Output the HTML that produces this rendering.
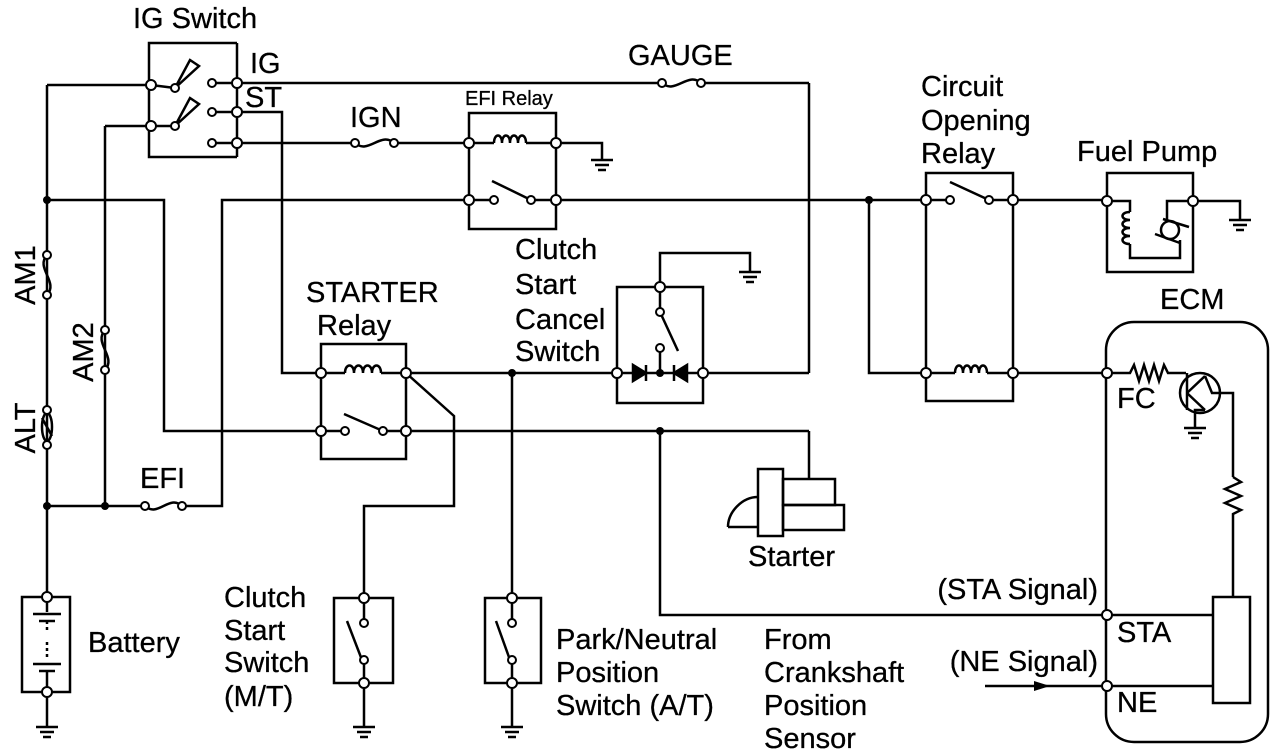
<!DOCTYPE html>
<html><head><meta charset="utf-8"><style>
html,body{margin:0;padding:0;background:#fff;}
svg{display:block;}
text{font-family:"Liberation Sans",Arial,sans-serif;fill:#000;stroke:#000;stroke-width:0.3;}
</style></head><body>
<svg width="1280" height="756" viewBox="0 0 1280 756" xmlns="http://www.w3.org/2000/svg">
<g fill="none" stroke="#000" stroke-width="2.5" stroke-linejoin="miter">
<polyline points="237,43 149,43 149,157 237,157"/>
<line x1="237" y1="43" x2="237" y2="157"/>
<line x1="47" y1="85" x2="47" y2="597"/>
<line x1="47" y1="85" x2="151" y2="85"/>
<line x1="151" y1="85" x2="175" y2="88"/>
<line x1="105" y1="126" x2="151" y2="126"/>
<line x1="151" y1="126" x2="175" y2="126"/>
<line x1="105" y1="126" x2="105" y2="506"/>
<polygon points="175,88 190,60 199,66" fill="#fff"/>
<polygon points="175,126 190,98 199,104" fill="#fff"/>
<line x1="212" y1="83" x2="237" y2="83"/>
<line x1="212" y1="112" x2="237" y2="112"/>
<line x1="212" y1="143" x2="237" y2="143"/>
<line x1="237" y1="83" x2="662" y2="83"/>
<line x1="701" y1="83" x2="809" y2="83"/>
<line x1="809" y1="83" x2="809" y2="373"/>
<path d="M662,83 C675,95 688,71 701,83"/>
<polyline points="237,112 282,112 282,373 321,373"/>
<line x1="237" y1="143" x2="355" y2="143"/>
<path d="M355,143 C368,155 381,131 394,143"/>
<line x1="394" y1="143" x2="469" y2="143"/>
<rect x="469" y="113" width="87" height="116"/>
<line x1="469" y1="143" x2="494" y2="143"/>
<path d="M494,143 c0,-10 8,-10 8,0 c0,-10 8,-10 8,0 c0,-10 8,-10 8,0 c0,-10 8,-10 8,0"/>
<line x1="526" y1="143" x2="556" y2="143"/>
<polyline points="556,143 602,143 602,160"/>
<line x1="469" y1="200" x2="494" y2="200"/>
<line x1="492" y1="181" x2="531" y2="200"/>
<line x1="531" y1="200" x2="556" y2="200"/>
<polyline points="47,200 164,200 164,431 321,431"/>
<polyline points="469,200 222,200 222,506 182,506"/>
<line x1="556" y1="200" x2="926" y2="200"/>
<polyline points="869,200 869,373 926,373"/>
<line x1="47" y1="506" x2="145" y2="506"/>
<path d="M145,506 C158,518 169,494 182,506"/>
<path d="M47,255 C35,268 59,282 47,295" />
<path d="M105,330 C93,343 117,357 105,370"/>
<ellipse cx="47" cy="427" rx="5" ry="14"/>
<line x1="42" y1="418" x2="52" y2="436"/>
<rect x="926" y="173" width="87" height="228"/>
<line x1="926" y1="200" x2="950" y2="200"/>
<line x1="950" y1="182" x2="989" y2="200"/>
<line x1="989" y1="200" x2="1013" y2="200"/>
<line x1="926" y1="373" x2="955" y2="373"/>
<path d="M955,373 c0,-10 8,-10 8,0 c0,-10 8,-10 8,0 c0,-10 8,-10 8,0 c0,-10 8,-10 8,0"/>
<line x1="987" y1="373" x2="1013" y2="373"/>
<line x1="1013" y1="200" x2="1107" y2="200"/>
<line x1="1013" y1="373" x2="1107" y2="373"/>
<rect x="1107" y="173" width="86" height="99"/>
<polyline points="1107,201 1130,201 1130,212"/>
<path d="M1130,212 c-10,0 -10,8 0,8 c-10,0 -10,8 0,8 c-10,0 -10,8 0,8 c-10,0 -10,8 0,8"/>
<polyline points="1130,244 1130,258 1180,258 1180,240"/>
<circle cx="1170" cy="230" r="9"/>
<polyline points="1193,201 1167,201 1167,221"/>
<line x1="1163" y1="219" x2="1189" y2="227"/>
<line x1="1155" y1="234" x2="1180" y2="243"/>
<polyline points="1193,201 1240,201 1240,220"/>
<rect x="1106" y="322" width="162" height="420" rx="28"/>
<polyline points="1107,373 1130,373 1134,365 1139,381 1144,365 1149,381 1154,365 1159,381 1164,365 1168,373 1186,373"/>
<circle cx="1200" cy="393" r="20"/>
<line x1="1187" y1="373" x2="1187" y2="410"/>
<line x1="1187" y1="393" x2="1205" y2="376"/>
<line x1="1187" y1="393" x2="1205" y2="410"/>
<polyline points="1205,410 1195,410 1195,428"/>
<polyline points="1205,376 1212,393 1233,393 1233,477"/>
<polyline points="1233,477 1241,482 1225,489 1241,496 1225,503 1241,510 1233,514 1233,597"/>
<rect x="1213" y="597" width="37" height="106"/>
<line x1="1107" y1="615" x2="1213" y2="615"/>
<line x1="1107" y1="686" x2="1213" y2="686"/>
<line x1="985" y1="686" x2="1107" y2="686"/>
<polyline points="660,431 660,615 1107,615"/>
<rect x="321" y="344" width="85" height="115"/>
<line x1="321" y1="373" x2="345" y2="373"/>
<path d="M345,373 c0,-10 9,-10 9,0 c0,-10 9,-10 9,0 c0,-10 9,-10 9,0 c0,-10 9,-10 9,0"/>
<line x1="381" y1="373" x2="617" y2="373"/>
<line x1="321" y1="431" x2="345" y2="431"/>
<line x1="344" y1="414" x2="383" y2="431"/>
<line x1="383" y1="431" x2="809" y2="431"/>
<polyline points="406,373 454,416 454,506 364,506 364,598"/>
<line x1="512" y1="373" x2="512" y2="598"/>
<rect x="617" y="287" width="86" height="116"/>
<polyline points="660,287 660,253 750,253 750,272"/>
<line x1="660" y1="287" x2="660" y2="312"/>
<line x1="660" y1="312" x2="678" y2="351"/>
<line x1="660" y1="348" x2="660" y2="373"/>
<line x1="617" y1="373" x2="703" y2="373"/>
<polygon points="633,365 633,381 646,373" fill="#000"/>
<line x1="646" y1="365" x2="646" y2="381"/>
<polygon points="687,365 687,381 674,373" fill="#000"/>
<line x1="674" y1="365" x2="674" y2="381"/>
<line x1="703" y1="373" x2="809" y2="373"/>
<polyline points="809,431 809,479"/>
<rect x="758" y="469" width="25" height="67" fill="#fff"/>
<rect x="783" y="479" width="52" height="26"/>
<rect x="783" y="505" width="61" height="25"/>
<path d="M728,527 C728,512 742,497 758,497"/>
<line x1="728" y1="527" x2="758" y2="527"/>
<rect x="22" y="597" width="48" height="95"/>
<line x1="47" y1="597" x2="47" y2="612"/>
<line x1="33" y1="614" x2="61" y2="614"/>
<line x1="39" y1="621" x2="55" y2="621"/>
<line x1="47" y1="621" x2="47" y2="632" stroke-dasharray="3,3"/>
<line x1="47" y1="642" x2="47" y2="660" stroke-dasharray="3,3"/>
<line x1="33" y1="664" x2="61" y2="664"/>
<line x1="39" y1="671" x2="55" y2="671"/>
<line x1="47" y1="671" x2="47" y2="692"/>
<line x1="47" y1="692" x2="47" y2="727"/>
<rect x="334" y="598" width="59" height="85"/>
<line x1="364" y1="598" x2="364" y2="623"/>
<line x1="347" y1="621" x2="362" y2="660"/>
<line x1="364" y1="660" x2="364" y2="727"/>
<rect x="485" y="598" width="56" height="85"/>
<line x1="512" y1="598" x2="512" y2="623"/>
<line x1="496" y1="621" x2="510" y2="660"/>
<line x1="512" y1="660" x2="512" y2="727"/>
</g>
<polygon points="1050,686 1034,681 1034,691" fill="#000"/>
<g stroke="#000" stroke-width="2.5">
<line x1="591" y1="160" x2="613" y2="160"/><line x1="595" y1="165" x2="609" y2="165"/><line x1="598" y1="170" x2="606" y2="170"/>
<line x1="739" y1="272" x2="761" y2="272"/><line x1="743" y1="277" x2="757" y2="277"/><line x1="746" y1="282" x2="754" y2="282"/>
<line x1="1229" y1="220" x2="1251" y2="220"/><line x1="1233" y1="225" x2="1247" y2="225"/><line x1="1236" y1="230" x2="1244" y2="230"/>
<line x1="1184" y1="428" x2="1206" y2="428"/><line x1="1188" y1="433" x2="1202" y2="433"/><line x1="1191" y1="438" x2="1199" y2="438"/>
<line x1="36" y1="727" x2="58" y2="727"/><line x1="40" y1="732" x2="54" y2="732"/><line x1="43" y1="737" x2="51" y2="737"/>
<line x1="353" y1="727" x2="375" y2="727"/><line x1="357" y1="732" x2="371" y2="732"/><line x1="360" y1="737" x2="368" y2="737"/>
<line x1="501" y1="727" x2="523" y2="727"/><line x1="505" y1="732" x2="519" y2="732"/><line x1="508" y1="737" x2="516" y2="737"/>
</g>
<g fill="#000">
<circle cx="47" cy="200" r="4"/><circle cx="47" cy="506" r="4"/><circle cx="105" cy="506" r="4"/>
<circle cx="869" cy="200" r="4"/><circle cx="512" cy="373" r="4"/><circle cx="660" cy="373" r="4"/><circle cx="660" cy="431" r="4"/>
</g>
<g fill="#fff" stroke="#000" stroke-width="2">
<circle cx="151" cy="85" r="5"/><circle cx="151" cy="126" r="5"/><circle cx="175" cy="88" r="4"/><circle cx="175" cy="126" r="4"/>
<circle cx="212" cy="83" r="4"/><circle cx="212" cy="112" r="4"/><circle cx="212" cy="143" r="4"/>
<circle cx="237" cy="83" r="5"/><circle cx="237" cy="112" r="5"/><circle cx="237" cy="143" r="5"/>
<circle cx="662" cy="83" r="4"/><circle cx="701" cy="83" r="4"/>
<circle cx="355" cy="143" r="4"/><circle cx="394" cy="143" r="4"/>
<circle cx="145" cy="506" r="4"/><circle cx="182" cy="506" r="4"/>
<circle cx="47" cy="255" r="4"/><circle cx="47" cy="295" r="4"/>
<circle cx="105" cy="330" r="4"/><circle cx="105" cy="370" r="4"/>
<circle cx="47" cy="410" r="4"/><circle cx="47" cy="445" r="4"/>
<circle cx="469" cy="143" r="5"/><circle cx="556" cy="143" r="5"/><circle cx="469" cy="200" r="5"/><circle cx="556" cy="200" r="5"/>
<circle cx="494" cy="200" r="4"/><circle cx="531" cy="200" r="4"/>
<circle cx="926" cy="200" r="5"/><circle cx="1013" cy="200" r="5"/><circle cx="950" cy="200" r="4"/><circle cx="989" cy="200" r="4"/>
<circle cx="926" cy="373" r="5"/><circle cx="1013" cy="373" r="5"/>
<circle cx="1107" cy="201" r="5"/><circle cx="1193" cy="201" r="5"/>
<circle cx="1107" cy="373" r="5"/><circle cx="1107" cy="615" r="5"/><circle cx="1107" cy="686" r="5"/>
<circle cx="321" cy="373" r="5"/><circle cx="406" cy="373" r="5"/><circle cx="321" cy="431" r="5"/><circle cx="406" cy="431" r="5"/>
<circle cx="345" cy="431" r="4"/><circle cx="383" cy="431" r="4"/>
<circle cx="617" cy="373" r="5"/><circle cx="703" cy="373" r="5"/><circle cx="660" cy="287" r="5"/>
<circle cx="660" cy="312" r="4"/><circle cx="660" cy="348" r="4"/>
<circle cx="47" cy="597" r="5"/><circle cx="47" cy="692" r="5"/>
<circle cx="364" cy="598" r="5"/><circle cx="364" cy="683" r="5"/><circle cx="364" cy="623" r="4"/><circle cx="364" cy="660" r="4"/>
<circle cx="512" cy="598" r="5"/><circle cx="512" cy="683" r="5"/><circle cx="512" cy="623" r="4"/><circle cx="512" cy="660" r="4"/>
</g>
<g font-size="29">
<text x="133" y="28">IG Switch</text>
<text x="250" y="73">IG</text>
<text x="245" y="107">ST</text>
<text x="628" y="65">GAUGE</text>
<text x="350" y="127">IGN</text>
<text x="465" y="105" font-size="20">EFI Relay</text>
<text x="921" y="96">Circuit</text>
<text x="921" y="130">Opening</text>
<text x="921" y="163">Relay</text>
<text x="1077" y="161">Fuel Pump</text>
<text x="1160" y="309">ECM</text>
<text x="515" y="259">Clutch</text>
<text x="515" y="294">Start</text>
<text x="515" y="329">Cancel</text>
<text x="515" y="361">Switch</text>
<text x="306" y="302">STARTER</text>
<text x="317" y="335">Relay</text>
<text x="1117" y="408">FC</text>
<text x="140" y="488">EFI</text>
<text x="748" y="566">Starter</text>
<text x="88" y="652">Battery</text>
<text x="224" y="607">Clutch</text>
<text x="224" y="640">Start</text>
<text x="224" y="672">Switch</text>
<text x="224" y="706">(M/T)</text>
<text x="556" y="649">Park/Neutral</text>
<text x="556" y="682">Position</text>
<text x="556" y="715">Switch (A/T)</text>
<text x="764" y="649">From</text>
<text x="764" y="682">Crankshaft</text>
<text x="764" y="715">Position</text>
<text x="764" y="748">Sensor</text>
<text x="1098" y="599" text-anchor="end">(STA Signal)</text>
<text x="1117" y="642">STA</text>
<text x="1098" y="671" text-anchor="end">(NE Signal)</text>
<text x="1117" y="712">NE</text>
<text transform="translate(35,275) rotate(-90)" text-anchor="middle">AM1</text>
<text transform="translate(35,428) rotate(-90)" text-anchor="middle">ALT</text>
<text transform="translate(93,352) rotate(-90)" text-anchor="middle">AM2</text>
</g>
</svg>
</body></html>
